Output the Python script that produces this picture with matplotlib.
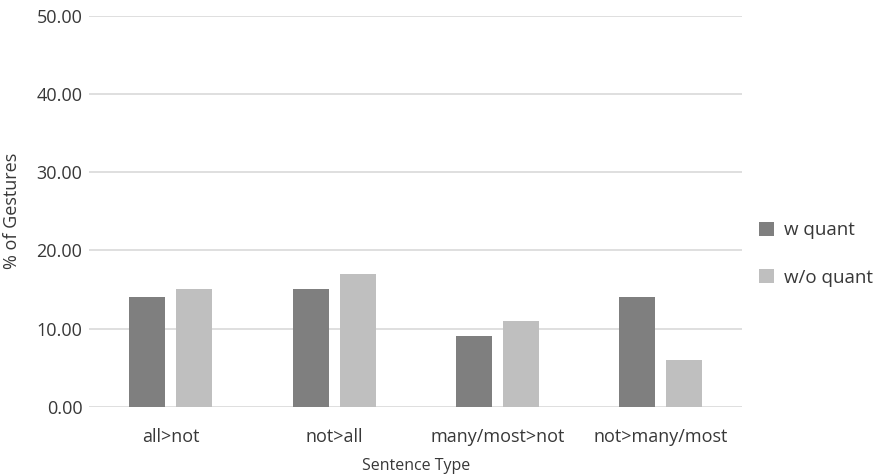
import matplotlib
matplotlib.use("Agg")
import matplotlib.pyplot as plt
import numpy as np

categories = ["all>not", "not>all", "many/most>not", "not>many/most"]
w_quant = [14, 15, 9, 14]
wo_quant = [15, 17, 11, 6]
series_labels = ["w quant", "w/o quant"]
y_ticks = [0, 10, 20, 30, 40, 50]

plt.rcParams["font.family"] = ["Open Sans", "DejaVu Sans"]
text_color = "#383838"

fig = plt.figure(figsize=(8.82, 4.75), dpi=100)
ax = fig.add_axes([89.3 / 882, 1 - 406.7 / 475, (742 - 89.3) / 882, (406.7 - 16) / 475])

x = np.arange(len(categories))
bar_w = 0.221
off = 0.144
b1 = ax.bar(x - off, w_quant, width=bar_w, color="#7f7f7f", zorder=3, label=series_labels[0])
b2 = ax.bar(x + off, wo_quant, width=bar_w, color="#bfbfbf", zorder=3, label=series_labels[1])

ax.set_xlim(-0.5, len(categories) - 0.5)
ax.set_ylim(0, 50)
ax.set_yticks(y_ticks)
ax.set_yticklabels([f"{v:.2f}" for v in y_ticks])
ax.set_xticks(x)
ax.set_xticklabels(categories)

ax.yaxis.grid(True, color="#d9d9d9", linewidth=1.2, zorder=0)
ax.set_axisbelow(True)
for s in ax.spines.values():
    s.set_visible(False)
ax.tick_params(axis="both", length=0, labelsize=13, colors=text_color)
ax.tick_params(axis="y", pad=5)
ax.tick_params(axis="x", pad=15)

ax.set_xlabel("Sentence Type", fontsize=11.5, color=text_color, labelpad=9)
ax.set_ylabel("% of Gestures", fontsize=13, color=text_color, labelpad=11)

fig.legend(handles=[b1, b2], labels=series_labels, loc="center left",
           bbox_to_anchor=(750 / 882, 1 - 254 / 475), frameon=False,
           fontsize=13.5, handlelength=0.8, handleheight=0.8,
           handletextpad=0.5, labelspacing=1.55, borderpad=0,
           labelcolor=text_color)

fig.savefig("out.png", dpi=100, facecolor="white")
